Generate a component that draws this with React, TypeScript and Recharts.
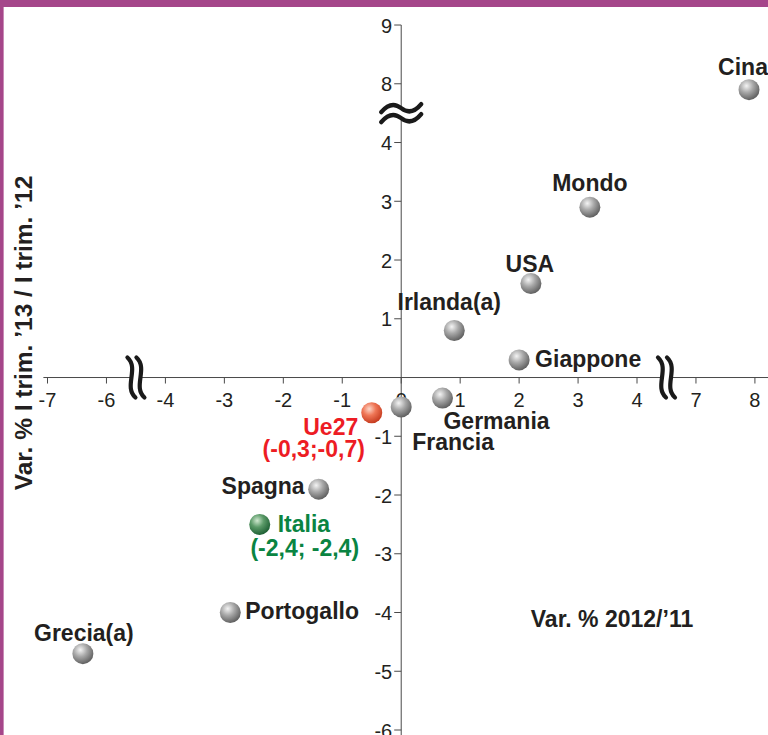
import React from 'react';
import { ScatterChart, Scatter, XAxis, YAxis, ReferenceLine, ReferenceDot, Customized } from 'recharts';

// ---- data ----
const countries = ['Cina', 'Mondo', 'USA', 'Irlanda(a)', 'Giappone', 'Germania', 'Francia', 'Ue27', 'Spagna', 'Italia', 'Portogallo', 'Grecia(a)'];
const var2012 = [7.9, 3.2, 2.2, 0.9, 2.0, 0.7, 0.0, -0.5, -1.4, -2.4, -2.9, -6.4];
const varTrim = [7.9, 2.9, 1.6, 0.8, 0.3, -0.35, -0.5, -0.6, -1.9, -2.5, -4.0, -4.7];
const xTicks = [-7, -6, -4, -3, -2, -1, 0, 1, 2, 3, 4, 7, 8];
const yTicks = [9, 8, 4, 3, 2, 1, -1, -2, -3, -4, -5, -6];
const xTitle = 'Var. % 2012/\u201911';
const yTitle = 'Var. % I trim. \u201913 / I trim. \u201912';

// ---- broken-axis transforms (value -> plotted position) ----
const bx = (v: number) => (v < -5 ? v + 1 : v > 5.5 ? v - 2 : v);
const by = (v: number) => (v > 6 ? v - 3 : v);
const X_BREAKS = [-4.5, 4.5];
const Y_BREAKS = [4.5];

// ---- label layout (offsets from point centre, px) ----
type Line = { text: string; dx: number; dy: number; anchor: 'start' | 'middle' | 'end' };
const labelLayout: Record<string, Line[]> = {
  Cina: [{ text: 'Cina', dx: -6, dy: -15, anchor: 'middle' }],
  Mondo: [{ text: 'Mondo', dx: 0, dy: -16, anchor: 'middle' }],
  USA: [{ text: 'USA', dx: -1, dy: -12, anchor: 'middle' }],
  'Irlanda(a)': [{ text: 'Irlanda(a)', dx: -5, dy: -21, anchor: 'middle' }],
  Giappone: [{ text: 'Giappone', dx: 16, dy: 7, anchor: 'start' }],
  Germania: [{ text: 'Germania', dx: 1, dy: 31, anchor: 'start' }],
  Francia: [{ text: 'Francia', dx: 11, dy: 43, anchor: 'start' }],
  Ue27: [
    { text: 'Ue27', dx: -41, dy: 22, anchor: 'middle' },
    { text: '(-0,3;-0,7)', dx: -58, dy: 44, anchor: 'middle' },
  ],
  Spagna: [{ text: 'Spagna', dx: -14, dy: 5, anchor: 'end' }],
  Italia: [
    { text: 'Italia', dx: 18, dy: 8, anchor: 'start' },
    { text: '(-2,4; -2,4)', dx: 45, dy: 32, anchor: 'middle' },
  ],
  Portogallo: [{ text: 'Portogallo', dx: 15, dy: 6, anchor: 'start' }],
  'Grecia(a)': [{ text: 'Grecia(a)', dx: 1, dy: -13, anchor: 'middle' }],
};

const pointStyle: Record<string, { grad: string; color: string }> = {
  Ue27: { grad: 'url(#gRed)', color: '#ED1C24' },
  Italia: { grad: 'url(#gGreen)', color: '#0A8442' },
};
const defaultStyle = { grad: 'url(#gGray)', color: '#231F20' };

const points = countries.map((name, i) => ({
  name,
  x: bx(var2012[i]),
  y: by(varTrim[i]),
}));

const FONT = '"Liberation Sans", Arial, Helvetica, sans-serif';
const AXIS = '#4a4a4a';

const renderPoint = (props: any) => {
  const { cx, cy, payload } = props;
  if (cx == null || cy == null) return <g />;
  const st = pointStyle[payload.name] || defaultStyle;
  const lines = labelLayout[payload.name] || [];
  return (
    <g>
      <circle cx={cx} cy={cy} r={10.5} fill={st.grad} />
      {lines.map((l, k) => (
        <text key={k} x={cx + l.dx} y={cy + l.dy} textAnchor={l.anchor} fontFamily={FONT}
          fontWeight="bold" fontSize={23} fill={st.color}>{l.text}</text>
      ))}
    </g>
  );
};

const xTickShape = (label: number) => (p: any) => (
  <g>
    <line x1={p.cx} y1={p.cy} x2={p.cx} y2={p.cy + 6} stroke={AXIS} strokeWidth={1} />
    <text x={p.cx} y={p.cy + 29} textAnchor="middle" fontFamily={FONT} fontSize={20} fill="#231F20">{label}</text>
  </g>
);
const yTickShape = (label: number) => (p: any) => (
  <g>
    <line x1={p.cx - 7} y1={p.cy} x2={p.cx} y2={p.cy} stroke={AXIS} strokeWidth={1} />
    <text x={p.cx - 9} y={p.cy + 7.5} textAnchor="end" fontFamily={FONT} fontSize={20} fill="#231F20">{label}</text>
  </g>
);

const xBreakShape = (p: any) => {
  const { cx, cy } = p;
  const s = (x: number) => `M ${x - 4} ${cy - 20} C ${x + 8} ${cy - 9}, ${x - 8} ${cy + 9}, ${x + 4} ${cy + 20}`;
  return (
    <g>
      <rect x={cx - 4} y={cy - 2} width={8} height={4} fill="#fff" />
      <path d={s(cx - 4.5)} stroke="#1a1a1a" strokeWidth={4.2} fill="none" strokeLinecap="round" />
      <path d={s(cx + 4.5)} stroke="#1a1a1a" strokeWidth={4.2} fill="none" strokeLinecap="round" />
    </g>
  );
};
const yBreakShape = (p: any) => {
  const { cx, cy } = p;
  const s = (y: number) => `M ${cx - 20} ${y + 4} Q ${cx - 10} ${y - 8}, ${cx} ${y} Q ${cx + 10} ${y + 8}, ${cx + 20} ${y - 4}`;
  return (
    <g>
      <rect x={cx - 2} y={cy - 5} width={4} height={10} fill="#fff" />
      <path d={s(cy - 5)} stroke="#1a1a1a" strokeWidth={4.4} fill="none" strokeLinecap="round" />
      <path d={s(cy + 5)} stroke="#1a1a1a" strokeWidth={4.4} fill="none" strokeLinecap="round" />
    </g>
  );
};

const Titles = () => (
  <g>
    <text x={612} y={627} textAnchor="middle" fontFamily={FONT} fontWeight="bold" fontSize={23} fill="#231F20">{xTitle}</text>
    <text x={32} y={333} textAnchor="middle" transform="rotate(-90 32 333)" fontFamily={FONT}
      fontWeight="bold" fontSize={24.5} fill="#231F20">{yTitle}</text>
  </g>
);

export default function App() {
  return (
    <div style={{ position: 'absolute', left: 0, top: 0, width: 768, height: 735, background: '#fff', overflow: 'hidden' }}>
      <svg width={0} height={0} style={{ position: 'absolute' }}>
        <defs>
          <radialGradient id="gGray" cx="38%" cy="32%" r="70%">
            <stop offset="0%" stopColor="#f4f4f4" />
            <stop offset="45%" stopColor="#a9a9a9" />
            <stop offset="100%" stopColor="#5e5e5e" />
          </radialGradient>
          <radialGradient id="gRed" cx="38%" cy="32%" r="70%">
            <stop offset="0%" stopColor="#fcd6c8" />
            <stop offset="45%" stopColor="#ef7656" />
            <stop offset="100%" stopColor="#c53a1e" />
          </radialGradient>
          <radialGradient id="gGreen" cx="38%" cy="32%" r="70%">
            <stop offset="0%" stopColor="#cfe8cf" />
            <stop offset="45%" stopColor="#5b9a68" />
            <stop offset="100%" stopColor="#1d5f33" />
          </radialGradient>
        </defs>
      </svg>
      <ScatterChart width={768} height={735} margin={{ top: 0, right: 0, bottom: 0, left: 0 }}>
        <XAxis type="number" dataKey="x" domain={[-6.806, 6.222]} hide allowDataOverflow />
        <YAxis type="number" dataKey="y" domain={[-6.085, 6.426]} hide allowDataOverflow />
        <ReferenceLine segment={[{ x: -6.07, y: 0 }, { x: 6.222, y: 0 }]} stroke={AXIS} strokeWidth={1} />
        <ReferenceLine segment={[{ x: 0, y: -6.085 }, { x: 0, y: 6 }]} stroke={AXIS} strokeWidth={1} />
        {xTicks.map((t) => (
          <ReferenceDot key={'xt' + t} x={bx(t)} y={0} r={1} shape={xTickShape(t)} />
        ))}
        {yTicks.map((t) => (
          <ReferenceDot key={'yt' + t} x={0} y={by(t)} r={1} shape={yTickShape(t)} />
        ))}
        {X_BREAKS.map((b) => (
          <ReferenceDot key={'xb' + b} x={b} y={0} r={1} shape={xBreakShape} />
        ))}
        {Y_BREAKS.map((b) => (
          <ReferenceDot key={'yb' + b} x={0} y={b} r={1} shape={yBreakShape} />
        ))}
        <Scatter data={points} shape={renderPoint} isAnimationActive={false} />
        <Customized component={Titles} />
      </ScatterChart>
      <div style={{ position: 'absolute', left: 0, top: 0, width: 768, height: 7, background: '#A5468A' }} />
      <div style={{ position: 'absolute', left: 0, top: 0, width: 3, height: 735, background: '#A5468A' }} />
      <div style={{ position: 'absolute', left: 3, top: 7, width: 1, height: 728, background: '#C98BB6' }} />
    </div>
  );
}
